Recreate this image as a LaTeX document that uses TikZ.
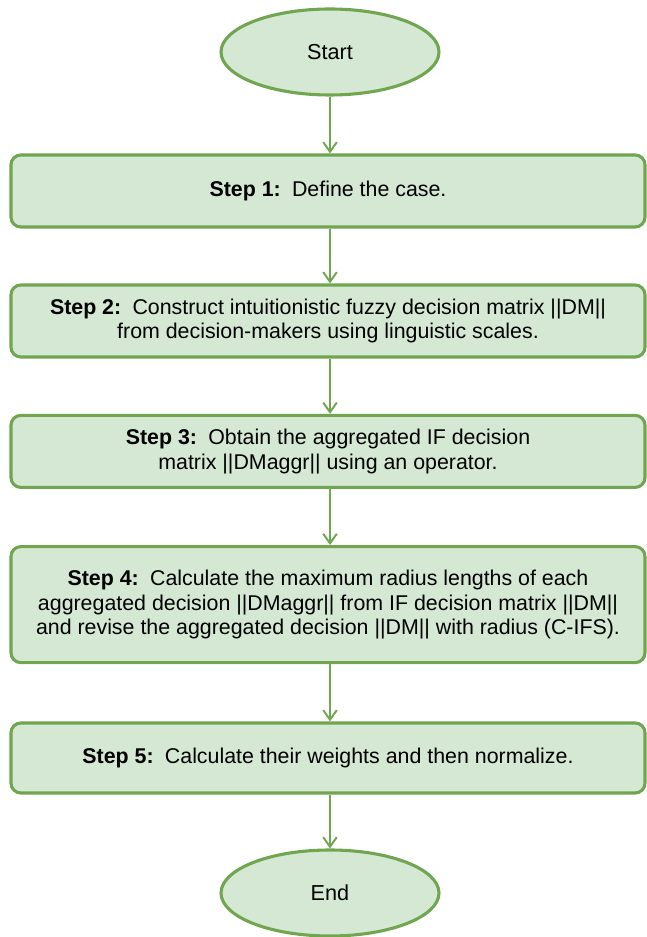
\documentclass[tikz,border=0pt]{standalone}
\usepackage{fontspec}
\setmainfont{Liberation Sans}
\usetikzlibrary{shapes,arrows.meta,positioning}
\definecolor{boxfill}{HTML}{D5E8D4}
\definecolor{boxline}{HTML}{6FA64F}
\newcommand{\steplabel}[1]{\textbf{Step #1:}\hspace*{8pt}}

\begin{document}
\begin{tikzpicture}[
    stepbox/.style={draw=boxline, line width=2.2pt, fill=boxfill, rounded corners=7pt,
        minimum width=15.85cm, align=center, font=\fontsize{15.2}{17.5}\selectfont},
    term/.style={ellipse, draw=boxline, line width=2.2pt, fill=boxfill,
        minimum width=5.45cm, minimum height=2.15cm, font=\fontsize{15.4}{17.5}\selectfont},
    flow/.style={-{Straight Barb[length=2.4mm,width=3.4mm]}, draw=boxline, line width=1.4pt}
]
                \useasboundingbox (0,0) rectangle (16.175,23.425);
                % Start and end
                \node[term] (start) at (8.25,22.125) {Start};
                \node[term] (end) at (8.25,1.1) {End};
                % Steps
                \node[stepbox, minimum height=1.8cm] (s1) at (8.2,18.65)
                    {\steplabel{1}Define the case.};
                \node[stepbox, minimum height=1.8cm] (s2) at (8.2,15.4)
                    {\steplabel{2}Construct intuitionistic fuzzy decision matrix ||DM||\\
                     from decision-makers using linguistic scales.};
                \node[stepbox, minimum height=1.8cm] (s3) at (8.2,12.14)
                    {\steplabel{3}Obtain the aggregated IF decision\\
                     matrix ||DMaggr|| using an operator.};
                \node[stepbox, minimum height=2.9cm] (s4) at (8.2,8.31)
                    {\steplabel{4}Calculate the maximum radius lengths of each\\
                     aggregated decision ||DMaggr|| from IF decision matrix ||DM||\\
                     and revise the aggregated decision ||DM|| with radius (C-IFS).};
                \node[stepbox, minimum height=1.75cm] (s5) at (8.2,4.475)
                    {\steplabel{5}Calculate their weights and then normalize.};
                % Arrows
                \foreach \a/\b in {start/s1,s1/s2,s2/s3,s3/s4,s4/s5,s5/end} {
                    \draw[flow] (\a.south -| start.south) -- (\b.north -| start.south);
                }
\end{tikzpicture}
\end{document}
